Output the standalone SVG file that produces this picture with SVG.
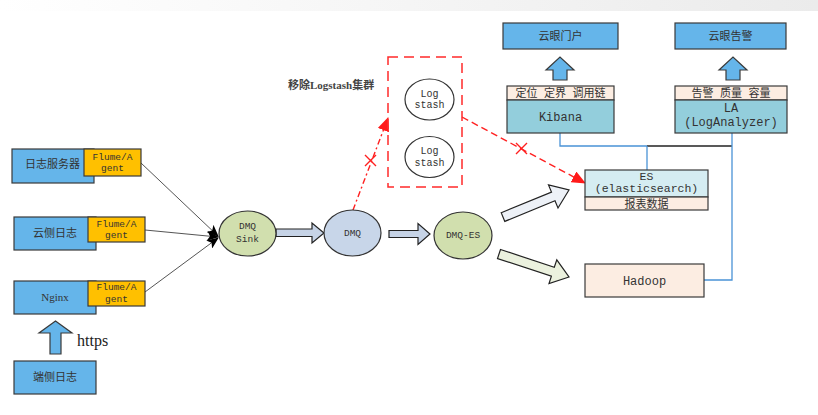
<svg xmlns="http://www.w3.org/2000/svg" width="818" height="415" viewBox="0 0 818 415">
<defs>
<linearGradient id="topg" x1="0" y1="0" x2="1" y2="0">
<stop offset="0" stop-color="#ffffff"/>
<stop offset="1" stop-color="#ebebeb"/>
</linearGradient>
<marker id="blk" markerWidth="12" markerHeight="10" refX="11" refY="5" orient="auto" markerUnits="userSpaceOnUse">
<path d="M0,0 L12,5 L0,10 L3,5 Z" fill="#000"/>
</marker>
<marker id="red" markerWidth="14" markerHeight="12" refX="13" refY="6" orient="auto" markerUnits="userSpaceOnUse">
<path d="M0,0 L14,6 L0,12 Z" fill="#ff1a1a"/>
</marker>
</defs>
<style>
.bx{fill:#65b5ea;stroke:#3a3a3a;stroke-width:1.2}
.yl{fill:#ffc000;stroke:#3a3a3a;stroke-width:1.2}
.peach{fill:#fcede2;stroke:#3a3a3a;stroke-width:1.2}
.teal{fill:#93cedc;stroke:#3a3a3a;stroke-width:1.2}
.lcyan{fill:#d5edf2;stroke:#3a3a3a;stroke-width:1.2}
.green{fill:#d1dfae;stroke:#333;stroke-width:1.2}
.bluegray{fill:#c8d6e9;stroke:#333;stroke-width:1.2}
.cj{font-family:"Noto Sans CJK SC","Noto Sans",sans-serif;font-size:11px;fill:#333}
.mo{font-family:"Liberation Mono","DejaVu Sans Mono",monospace;fill:#333}
.sm{font-size:9.5px}
.md{font-size:12px}
.c{text-anchor:middle}
.blk{fill:#c6d3e6;stroke:#222;stroke-width:1.2}
.up{fill:#65b5ea;stroke:#3a3a3a;stroke-width:1.2}
.ln{stroke:#555;stroke-width:1;fill:none}
.bl{stroke:#4a93d6;stroke-width:1.3;fill:none}
.rd{stroke:#ff2020;stroke-width:1.4;fill:none}
</style>
<rect x="0" y="0" width="818" height="415" fill="#fff"/>
<rect x="0" y="0" width="818" height="11" fill="url(#topg)"/>

<g id="connectors">
<line class="ln" x1="141" y1="163" x2="218" y2="236" marker-end="url(#blk)"/>
<line class="ln" x1="145" y1="230" x2="218" y2="237" marker-end="url(#blk)"/>
<line class="ln" x1="145" y1="292" x2="218" y2="238" marker-end="url(#blk)"/>
<polygon class="up" points="50,354 50,333 39,333 55.5,321 72,333 61,333 61,354"/>
<text x="77" y="346" font-family="Liberation Serif,serif" font-size="16" fill="#222">https</text>
<polygon class="blk" points="276,229 312,229 312,223 324,233 312,243 312,236.5 276,236.5"/>
<polygon class="blk" points="389,230.5 418,230.5 418,223.5 430,234 418,244.5 418,237.5 389,237.5"/>
<polygon fill="#edf1f7" stroke="#222" stroke-width="1.2" points="501.2,212.7 551.5,192.1 548.5,184.9 569,190 558,208 555,200.8 504.8,221.4"/>
<polygon fill="#ebf1de" stroke="#222" stroke-width="1.2" points="500.5,249.5 554.3,267.2 556.8,259.8 569,277 549,283.6 551.4,276.2 497.5,258.5"/>
<polygon class="up" points="553,80 553,70 546,70 560,57 574,70 567,70 567,80"/>
<polygon class="up" points="726,80 726,70 719,70 733,57 747,70 740,70 740,80"/>
<path class="bl" d="M560,133 V146 H647"/>
<path d="M647,146 H732" stroke="#222" stroke-width="1.3" fill="none"/>
<path class="bl" d="M647,146 V170"/>
<path class="bl" d="M732,133 V280 H704"/>
<line class="rd" x1="353" y1="210" x2="388" y2="118" stroke-dasharray="6,3,2,3" marker-end="url(#red)"/>
<path class="rd" d="M365,155 L376,166 M365,166 L376,155"/>
<line class="rd" x1="462" y1="117" x2="585" y2="183" stroke-dasharray="7,4" marker-end="url(#red)"/>
<path class="rd" d="M516,143 L527,154 M516,154 L527,143"/>
</g>

<g id="log-server">
<rect class="bx" x="12" y="149" width="82" height="34"/>
<rect class="yl" x="84" y="149" width="57" height="27"/>
<text class="cj" x="25" y="168">日志服务器</text>
<text class="mo sm c" x="112.5" y="160">Flume/A</text>
<text class="mo sm c" x="112.5" y="171">gent</text>
</g>
<g id="cloud-log">
<rect class="bx" x="14" y="217" width="82" height="33"/>
<rect class="yl" x="88" y="217" width="57" height="25"/>
<text class="cj" x="33" y="237">云侧日志</text>
<text class="mo sm c" x="116.5" y="227">Flume/A</text>
<text class="mo sm c" x="116.5" y="238">gent</text>
</g>
<g id="nginx">
<rect class="bx" x="14" y="281" width="82" height="33"/>
<rect class="yl" x="88" y="281" width="57" height="25"/>
<text x="55" y="301" font-family="Liberation Serif,serif" font-size="11" fill="#333" text-anchor="middle">Nginx</text>
<text class="mo sm c" x="116.5" y="290">Flume/A</text>
<text class="mo sm c" x="116.5" y="302">gent</text>
</g>
<g id="client-log">
<rect class="bx" x="14" y="361" width="82" height="33"/>
<text class="cj c" x="55" y="381">端侧日志</text>
</g>
<g id="dmq-sink">
<ellipse class="green" cx="247.5" cy="233.5" rx="28.5" ry="22.5"/>
<text class="mo sm c" x="247.5" y="229" fill="#555">DMQ</text>
<text class="mo sm c" x="247.5" y="242" fill="#555">Sink</text>
</g>
<g id="dmq">
<ellipse class="bluegray" cx="352.5" cy="233" rx="28.5" ry="23"/>
<text class="mo sm c" x="352.5" y="236">DMQ</text>
</g>
<g id="dmq-es">
<ellipse class="green" cx="463" cy="235.5" rx="29" ry="23.5"/>
<text class="mo sm c" x="463" y="238">DMQ-ES</text>
</g>
<g id="logstash-cluster">
<rect x="388" y="57" width="74" height="130" fill="none" stroke="#ff2a2a" stroke-width="1.5" stroke-dasharray="10,6"/>
<text x="288" y="89" font-family="Liberation Serif,'Noto Sans CJK SC',serif" font-size="11" font-weight="bold" fill="#444">移除Logstash集群</text>
<ellipse cx="429.5" cy="99.5" rx="24.5" ry="20.5" fill="#fff" stroke="#333" stroke-width="1.2"/>
<text class="mo c" font-size="10" x="429.5" y="97">Log</text>
<text class="mo c" font-size="10" x="429.5" y="108">stash</text>
<ellipse cx="429.5" cy="157" rx="24.5" ry="20.5" fill="#fff" stroke="#333" stroke-width="1.2"/>
<text class="mo c" font-size="10" x="429.5" y="154">Log</text>
<text class="mo c" font-size="10" x="429.5" y="166">stash</text>
</g>
<g id="portal">
<rect class="bx" x="503" y="23" width="115" height="26"/>
<text class="cj c" x="560.5" y="40">云眼门户</text>
</g>
<g id="alarm">
<rect class="bx" x="675" y="23" width="111" height="26"/>
<text class="cj c" x="730.5" y="40">云眼告警</text>
</g>
<g id="kibana">
<rect class="peach" x="507" y="86" width="107" height="14"/>
<rect class="teal" x="507" y="100" width="107" height="33"/>
<text class="cj c" x="560.5" y="97" font-size="10.5" word-spacing="4">定位 定界 调用链</text>
<text class="mo md c" x="560.5" y="121">Kibana</text>
</g>
<g id="la">
<rect class="peach" x="675" y="86" width="112" height="14"/>
<rect class="teal" x="675" y="100" width="112" height="33"/>
<text class="cj c" x="731" y="97" font-size="10.5" word-spacing="4">告警 质量 容量</text>
<text class="mo md c" x="731" y="112">LA</text>
<text class="mo md c" x="731" y="126">(LogAnalyzer)</text>
</g>
<g id="es">
<rect class="lcyan" x="585" y="170" width="123" height="27"/>
<rect class="peach" x="585" y="197" width="123" height="13"/>
<text class="mo c" font-size="11.5" x="646.5" y="180">ES</text>
<text class="mo c" font-size="11.5" x="646.5" y="192">(elasticsearch)</text>
<text class="cj c" font-size="10" x="646.5" y="207.5">报表数据</text>
</g>
<g id="hadoop">
<rect class="peach" x="585" y="264" width="119" height="33"/>
<text class="mo md c" x="644.5" y="285">Hadoop</text>
</g>
</svg>
